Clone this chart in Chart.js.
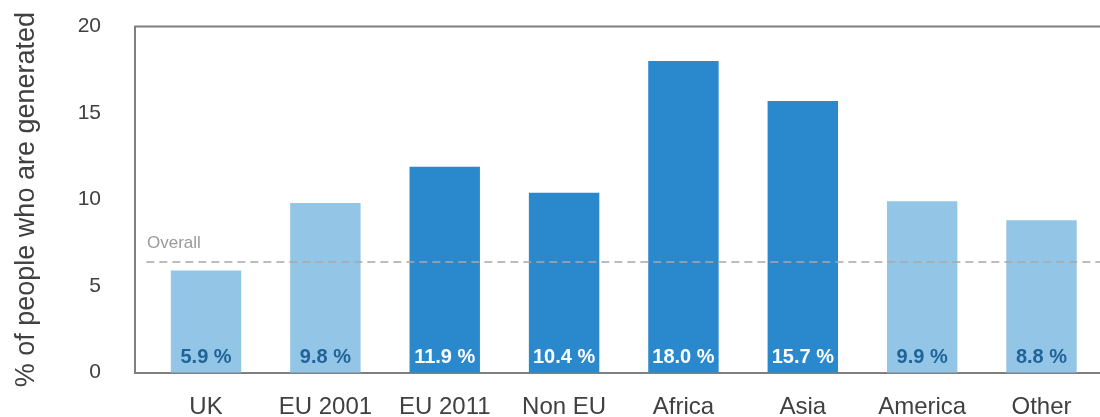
<!DOCTYPE html>
<html>
<head>
<meta charset="utf-8">
<script src="https://cdn.jsdelivr.net/npm/chart.js@4/dist/chart.umd.min.js"></script>
<style>
html,body{margin:0;padding:0;background:#fff;overflow:hidden;}
canvas{display:block;}
</style>
</head>
<body>
<canvas id="c" width="1100" height="417"></canvas>
<script>
const categories = ['UK','EU 2001','EU 2011','Non EU','Africa','Asia','America','Other'];
const values = [5.9, 9.8, 11.9, 10.4, 18.0, 15.7, 9.9, 8.8];
const valueLabels = ['5.9 %','9.8 %','11.9 %','10.4 %','18.0 %','15.7 %','9.9 %','8.8 %'];
const groups = ['light','light','dark','dark','dark','dark','light','light'];
const overall = 6.4;
const overallLabel = 'Overall';
const yTicks = [0, 5, 10, 15, 20];
const yTitle = '% of people who are generated';

const LIGHT = '#93c5e6', DARK = '#2a89cd';
const FONT = "'Liberation Sans', Arial, sans-serif";

const labelPlugin = {
  id: 'labels',
  afterDatasetsDraw(chart) {
    const ctx = chart.ctx;
    const meta = chart.getDatasetMeta(0);
    const a = chart.chartArea;
    ctx.save();
    // top frame line
    ctx.strokeStyle = '#7f7f7f';
    ctx.lineWidth = 2;
    ctx.beginPath();
    ctx.moveTo(a.left - 1, a.top);
    ctx.lineTo(a.right, a.top);
    ctx.stroke();
    ctx.font = 'bold 20px ' + FONT;
    ctx.textAlign = 'center';
    ctx.textBaseline = 'alphabetic';
    meta.data.forEach((bar, i) => {
      ctx.fillStyle = groups[i] === 'light' ? '#1f6399' : '#ffffff';
      ctx.fillText(valueLabels[i], bar.x, chart.scales.y.getPixelForValue(0) - 10);
    });
    const ys = chart.scales.y.getPixelForValue(overall);
    ctx.font = '17px ' + FONT;
    ctx.fillStyle = '#9a9a9a';
    ctx.textAlign = 'left';
    ctx.fillText(overallLabel, a.left + 12, ys - 14);
    ctx.restore();
  }
};

new Chart(document.getElementById('c'), {
  type: 'bar',
  data: {
    datasets: [{
      type: 'bar',
      data: categories.map((c, i) => ({x: i, y: values[i]})),
      backgroundColor: groups.map(g => g === 'light' ? LIGHT : DARK),
      categoryPercentage: 1,
      barPercentage: 0.59,
      order: 2
    }, {
      type: 'line',
      data: [{x: -0.5, y: overall}, {x: 8, y: overall}],
      borderColor: '#a8a8a8',
      borderWidth: 1.5,
      borderDash: [8, 5],
      pointRadius: 0,
      order: 1
    }]
  },
  options: {
    responsive: false,
    animation: false,
    layout: {padding: {left: 0, right: 0, top: 26.5, bottom: 0}},
    plugins: {legend: {display: false}, tooltip: {enabled: false}},
    scales: {
      x: {
        type: 'linear',
        position: 'bottom',
        offset: false,
        min: -0.595,
        max: 7.49,
        afterBuildTicks: s => { s.ticks = categories.map((c, i) => ({value: i})); },
        afterFit: s => { s.height = 44.3; s.paddingLeft = 0; s.paddingRight = 0; },
        grid: {display: false, drawTicks: false},
        border: {display: true, color: '#7f7f7f', width: 2},
        ticks: {
          callback: v => categories[v],
          color: '#404040',
          font: {family: FONT, size: 24},
          padding: 20,
          maxRotation: 0,
          autoSkip: false
        }
      },
      y: {
        min: 0,
        max: 20,
        afterBuildTicks: s => { s.ticks = yTicks.map(v => ({value: v})); },
        afterFit: s => { s.width = 135; s.paddingTop = 0; s.paddingBottom = 0; },
        grid: {display: false, drawTicks: false},
        border: {display: true, color: '#7f7f7f', width: 2},
        ticks: {
          color: '#404040',
          font: {family: FONT, size: 21},
          padding: 34
        },
        title: {
          display: true,
          text: yTitle,
          color: '#404040',
          font: {family: FONT, size: 27},
          padding: {top: 10, bottom: 0}
        }
      }
    }
  },
  plugins: [labelPlugin]
});
</script>
</body>
</html>
